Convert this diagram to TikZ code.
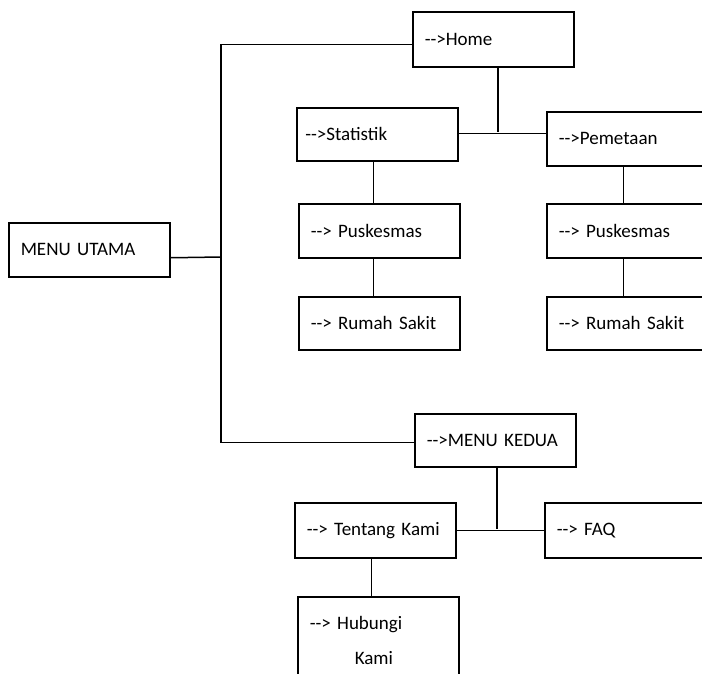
\documentclass[tikz,border=0pt]{standalone}
\usepackage{fontspec}
\setmainfont{Carlito}
\usepackage{tikz}
\usetikzlibrary{shapes,arrows,positioning,calc}

\tikzset{
    menubox/.style={draw, line width=1.5pt, rectangle, anchor=north west,
        minimum width=161pt, minimum height=54pt, inner xsep=12pt,
        text width=137pt, align=left, font=\fontsize{19}{23}\selectfont},
    link/.style={line width=1.5pt}
}

\begin{document}
\begin{tikzpicture}[x=1pt, y=-1pt]
        \useasboundingbox (0,0) rectangle (702,673);
        \clip (0,0) rectangle (702,673);

        % menu boxes
        \node[menubox] (utama) at (8,222) {MENU UTAMA};
        \node[menubox, minimum height=55pt] (home) at (412,11) {-{}->Home};
        \node[menubox, minimum height=53pt, inner xsep=8pt, text width=144pt] (statistik) at (296,107) {-{}->Statistik};
        \node[menubox] (pemetaan) at (546,111) {-{}->Pemetaan};
        \node[menubox] (puskesmasA) at (298,203) {-{}-> Puskesmas};
        \node[menubox] (puskesmasB) at (546,203) {-{}-> Puskesmas};
        \node[menubox, minimum height=53pt] (rsA) at (298,296) {-{}-> Rumah Sakit};
        \node[menubox, minimum height=53pt] (rsB) at (546,296) {-{}-> Rumah Sakit};
        \node[menubox, minimum height=53pt] (kedua) at (414,413) {-{}->MENU KEDUA};
        \node[menubox, minimum height=55pt] (tentang) at (294,502) {-{}-> Tentang Kami};
        \node[menubox, minimum height=55pt] (faq) at (544,502) {-{}-> FAQ};
        \node[menubox, minimum height=88pt] (hubungi) at (297,596) {-{}-> Hubungi\\[12pt]\hspace*{45pt}Kami};

        % connectors
        \coordinate (trunk) at (221,257);
        \coordinate (homejoin) at (498,132);
        \coordinate (keduajoin) at (497,529);

        \draw[link] ([yshift=-8pt]utama.east) -- (trunk);
        \draw[link] ([yshift=-5pt]home.west) -| (trunk) |- ([yshift=-2pt]kedua.west);

        \draw[link] (homejoin |- home.south) -- (homejoin);
        \draw[link] ([yshift=1pt]statistik.east) -- ([yshift=1pt]statistik.east -| pemetaan.west);
        \draw[link] ([xshift=-4pt]statistik.south) -- ([xshift=-4pt]statistik.south |- puskesmasA.north);
        \draw[link] ([xshift=-6pt]puskesmasA.south) -- ([xshift=-6pt]rsA.north);
        \draw[link] ([xshift=-4pt]pemetaan.south) -- ([xshift=-4pt]pemetaan.south |- puskesmasB.north);
        \draw[link] ([xshift=-4pt]puskesmasB.south) -- ([xshift=-4pt]rsB.north);

        \draw[link] (keduajoin |- kedua.south) -- (keduajoin);
        \draw[link] (tentang.east) -- (tentang.east -| faq.west);
        \draw[link] ([xshift=-4pt]tentang.south) -- ([xshift=-4pt]tentang.south |- hubungi.north);
    \end{tikzpicture}
\end{document}
